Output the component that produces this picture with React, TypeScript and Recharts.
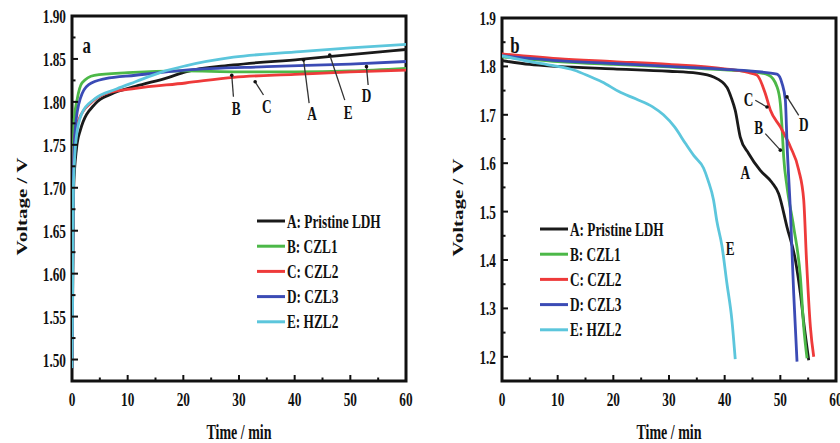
import { LineChart, Line, XAxis, YAxis, ReferenceArea, ReferenceLine, ReferenceDot, Legend } from 'recharts';

type Pt = [number, number];

// panel a: charge curves, [time / min, voltage / V]
const chargeA: Pt[] = [[0, 1.49], [0.3, 1.7], [0.8, 1.745], [1.5, 1.767], [4.2, 1.798], [7, 1.809], [11.4, 1.818], [17.4, 1.8286], [20.4, 1.835], [29, 1.843], [41, 1.8495], [50, 1.855], [60, 1.861]];
const chargeB: Pt[] = [[0, 1.49], [0.15, 1.7], [0.4, 1.78], [0.9, 1.802], [1.8, 1.822], [4, 1.831], [10, 1.834], [20, 1.836], [30, 1.835], [40, 1.835], [50, 1.836], [60, 1.839]];
const chargeC: Pt[] = [[0, 1.49], [0.2, 1.69], [0.5, 1.76], [1.2, 1.779], [3.6, 1.8], [6.7, 1.811], [11.4, 1.8157], [20.4, 1.822], [29, 1.8286], [40, 1.832], [50, 1.835], [60, 1.837]];
const chargeD: Pt[] = [[0, 1.49], [0.2, 1.7], [0.6, 1.77], [1.5, 1.804], [3, 1.82], [6, 1.827], [11.4, 1.831], [20.4, 1.837], [35, 1.841], [50, 1.844], [60, 1.847]];
const chargeE: Pt[] = [[0, 1.49], [0.25, 1.7], [0.8, 1.76], [1.8, 1.787], [4, 1.803], [8, 1.815], [11.4, 1.8234], [16.2, 1.835], [20.4, 1.842], [29, 1.852], [41, 1.8584], [50, 1.863], [60, 1.867]];

// panel b: discharge curves
const dischargeA: Pt[] = [[0, 1.812], [5, 1.804], [10, 1.8], [20, 1.795], [30, 1.79], [35, 1.786], [38, 1.778], [40.4, 1.757], [41.2, 1.735], [41.9, 1.709], [42.8, 1.654], [44.3, 1.62], [46.4, 1.585], [48.5, 1.56], [49.7, 1.537], [51.2, 1.468], [52.7, 1.4], [53.6, 1.331], [54.3, 1.262], [55.1, 1.193]];
const dischargeB: Pt[] = [[0, 1.82], [10, 1.81], [20, 1.804], [30, 1.799], [40, 1.793], [45, 1.789], [47.9, 1.782], [49.4, 1.758], [50, 1.723], [50.3, 1.675], [50.6, 1.613], [51.2, 1.551], [52.4, 1.468], [53.6, 1.365], [54.2, 1.262], [54.8, 1.197]];
const dischargeC: Pt[] = [[0, 1.826], [10, 1.816], [20, 1.81], [30, 1.804], [40, 1.795], [44, 1.788], [45.8, 1.782], [47.3, 1.744], [48.2, 1.71], [50, 1.675], [51.8, 1.634], [53.3, 1.586], [54.2, 1.524], [54.7, 1.4], [55.4, 1.262], [56, 1.2]];
const dischargeD: Pt[] = [[0, 1.822], [10, 1.812], [20, 1.806], [30, 1.8], [40, 1.794], [45, 1.79], [49.4, 1.784], [50.3, 1.765], [50.9, 1.731], [51.2, 1.641], [51.8, 1.503], [52.4, 1.331], [53, 1.19]];
const dischargeE: Pt[] = [[0, 1.822], [5, 1.81], [9, 1.802], [13, 1.792], [16, 1.778], [18, 1.768], [21, 1.748], [24, 1.733], [27, 1.717], [29, 1.7], [31, 1.675], [33, 1.64], [34.5, 1.615], [36.2, 1.59], [37, 1.565], [38, 1.524], [38.6, 1.48], [39.5, 1.43], [40.4, 1.352], [41.3, 1.276], [41.9, 1.195]];

const seriesNames = ['A: Pristine LDH', 'B: CZL1', 'C: CZL2', 'D: CZL3', 'E: HZL2'];
const seriesColors = ['#1a1a1a', '#4cb848', '#ee3a3a', '#3b4bb5', '#5cc6dc'];

const timeMajor = [0, 10, 20, 30, 40, 50, 60];
const timeMinor = [5, 15, 25, 35, 45, 55];
const chargeVMajor = [1.5, 1.55, 1.6, 1.65, 1.7, 1.75, 1.8, 1.85, 1.9];
const chargeVMinor = [1.525, 1.575, 1.625, 1.675, 1.725, 1.775, 1.825, 1.875];
const dischargeVMajor = [1.2, 1.3, 1.4, 1.5, 1.6, 1.7, 1.8, 1.9];
const dischargeVMinor = [1.25, 1.35, 1.45, 1.55, 1.65, 1.75, 1.85];

type Note = { text: string; at: Pt; from?: Pt; to?: Pt };

const chargeNotes: Note[] = [
  { text: 'B', at: [29.5, 1.7924], from: [29.0, 1.806], to: [28.7, 1.831] },
  { text: 'C', at: [35.0, 1.795], from: [34.4, 1.808], to: [32.9, 1.8234] },
  { text: 'A', at: [43.1, 1.7866], from: [42.6, 1.7986], to: [41.6, 1.8487] },
  { text: 'E', at: [49.6, 1.7885], from: [49.0, 1.802], to: [46.3, 1.8545] },
  { text: 'D', at: [52.9, 1.808], from: [53.2, 1.8196], to: [52.9, 1.841] },
];
const dischargeNotes: Note[] = [
  { text: 'C', at: [44.3, 1.7336], from: [45.5, 1.73], to: [47.6, 1.716] },
  { text: 'B', at: [46.1, 1.675], from: [47.3, 1.661], to: [50.0, 1.627] },
  { text: 'D', at: [54.2, 1.682], from: [53.3, 1.699], to: [51.2, 1.737] },
  { text: 'A', at: [43.7, 1.582] },
  { text: 'E', at: [41.0, 1.424] },
];

const FONT = "'Liberation Serif', 'Times New Roman', serif";
const SQUEEZE = 0.7;

const Txt = ({ x, y, size = 19, anchor = 'start', vertical = false, children }: any) => (
  <text
    transform={`translate(${x},${y}) scale(${SQUEEZE},1)${vertical ? ' rotate(-90)' : ''}`}
    textAnchor={anchor}
    fontFamily={FONT}
    fontWeight="bold"
    fontSize={size}
    fill="#111"
  >
    {children}
  </text>
);

const makeXTick = (major: number[]) => (props: any) => {
  const { x, y, payload } = props;
  const isMajor = major.includes(payload.value);
  return (
    <g>
      <line x1={x} x2={x} y1={y} y2={y - (isMajor ? 6 : 3.5)} stroke="#111" strokeWidth={2} />
      {isMajor && <Txt x={x} y={y + 25} anchor="middle">{payload.value}</Txt>}
    </g>
  );
};

const makeYTick = (major: number[], digits: number) => (props: any) => {
  const { x, y, payload } = props;
  const isMajor = major.includes(payload.value);
  return (
    <g>
      <line x1={x} x2={x + (isMajor ? 6 : 3.5)} y1={y} y2={y} stroke="#111" strokeWidth={2} />
      {isMajor && <Txt x={x - 6} y={y + 7} anchor="end">{payload.value.toFixed(digits)}</Txt>}
    </g>
  );
};

const XTitle = ({ viewBox }: any) => (
  <Txt x={viewBox.x + viewBox.width / 2} y={viewBox.y + 58} size={20} anchor="middle">Time / min</Txt>
);

const YTitle = ({ viewBox, dx }: any) => (
  <Txt x={viewBox.x + dx} y={viewBox.y + viewBox.height / 2 + 8} size={21} anchor="middle" vertical>
    Voltage / V
  </Txt>
);

const LegendBox = ({ payload }: any) => (
  <svg width={170} height={130} style={{ display: 'block' }}>
    {(payload || []).map((p: any, i: number) => (
      <g key={p.value}>
        <line x1={2} x2={30} y1={10 + i * 25.2} y2={10 + i * 25.2} stroke={p.color} strokeWidth={3} />
        <Txt x={32} y={16.5 + i * 25.2}>{p.value}</Txt>
      </g>
    ))}
  </svg>
);

const toRows = (pts: Pt[]) => pts.map(([t, v]) => ({ t, v }));

type PanelProps = {
  left: number;
  tag: string;
  tagAt: Pt;
  series: Pt[][];
  vDomain: [number, number];
  vMajor: number[];
  vMinor: number[];
  digits: number;
  margin: { top: number; right: number; bottom: number; left: number };
  titleDx: number;
  legendAt: { left: number; top: number };
  notes: Note[];
};

const Panel = ({ left, tag, tagAt, series, vDomain, vMajor, vMinor, digits, margin, titleDx, legendAt, notes }: PanelProps) => (
  <div style={{ position: 'absolute', left, top: 0 }}>
    <LineChart width={420} height={443} margin={margin}>
      <XAxis
        type="number"
        dataKey="t"
        domain={[0, 60]}
        allowDataOverflow
        ticks={[...timeMajor, ...timeMinor].sort((a, b) => a - b)}
        interval={0}
        axisLine={false}
        tickLine={false}
        tickSize={0}
        tickMargin={0}
        tick={makeXTick(timeMajor)}
        height={30}
        label={<XTitle />}
      />
      <YAxis
        type="number"
        dataKey="v"
        domain={vDomain}
        allowDataOverflow
        ticks={[...vMajor, ...vMinor].sort((a, b) => a - b)}
        interval={0}
        axisLine={false}
        tickLine={false}
        tickSize={0}
        tickMargin={0}
        tick={makeYTick(vMajor, digits)}
        width={60}
        label={<YTitle dx={titleDx} />}
      />
      <ReferenceArea x1={0} x2={60} y1={vDomain[0]} y2={vDomain[1]} fill="none" stroke="#111" strokeWidth={3} ifOverflow="visible" />
      {series.map((pts, i) => (
        <Line
          key={seriesNames[i]}
          name={seriesNames[i]}
          data={toRows(pts)}
          dataKey="v"
          type="monotone"
          stroke={seriesColors[i]}
          strokeWidth={2.8}
          dot={false}
          activeDot={false}
          isAnimationActive={false}
        />
      ))}
      {notes.filter((n) => n.from && n.to).map((n) => (
        <ReferenceLine
          key={`seg-${n.text}`}
          segment={[{ x: n.from![0], y: n.from![1] }, { x: n.to![0], y: n.to![1] }]}
          stroke="#333"
          strokeWidth={1.3}
        />
      ))}
      {notes.filter((n) => n.to).map((n) => (
        <ReferenceDot key={`tip-${n.text}`} x={n.to![0]} y={n.to![1]} r={1.8} fill="#111" stroke="none" />
      ))}
      {notes.map((n) => (
        <ReferenceDot
          key={`txt-${n.text}`}
          x={n.at[0]}
          y={n.at[1]}
          r={0}
          shape={(p: any) => <Txt x={p.cx} y={p.cy + 7} anchor="middle">{n.text}</Txt>}
        />
      ))}
      <ReferenceDot
        x={tagAt[0]}
        y={tagAt[1]}
        r={0}
        shape={(p: any) => <Txt x={p.cx} y={p.cy} size={24}>{tag}</Txt>}
      />
      <Legend
        layout="vertical"
        align="center"
        verticalAlign="middle"
        content={<LegendBox />}
        wrapperStyle={{ left: legendAt.left, top: legendAt.top, width: 170 }}
      />
    </LineChart>
  </div>
);

export default function App() {
  return (
    <div style={{ position: 'absolute', left: 0, top: 0, width: 840, height: 443, background: '#fff' }}>
      <Panel
        left={0}
        tag="a"
        tagAt={[1.9, 1.857]}
        series={[chargeA, chargeB, chargeC, chargeD, chargeE]}
        vDomain={[1.475, 1.9]}
        vMajor={chargeVMajor}
        vMinor={chargeVMinor}
        digits={2}
        margin={{ top: 16, right: 14, bottom: 32, left: 12 }}
        titleDx={15}
        legendAt={{ left: 255, top: 211 }}
        notes={chargeNotes}
      />
      <Panel
        left={420}
        tag="b"
        tagAt={[1.5, 1.827]}
        series={[dischargeA, dischargeB, dischargeC, dischargeD, dischargeE]}
        vDomain={[1.15, 1.9]}
        vMajor={dischargeVMajor}
        vMinor={dischargeVMinor}
        digits={1}
        margin={{ top: 18, right: 4, bottom: 32, left: 22 }}
        titleDx={21}
        legendAt={{ left: 118, top: 219 }}
        notes={dischargeNotes}
      />
    </div>
  );
}
